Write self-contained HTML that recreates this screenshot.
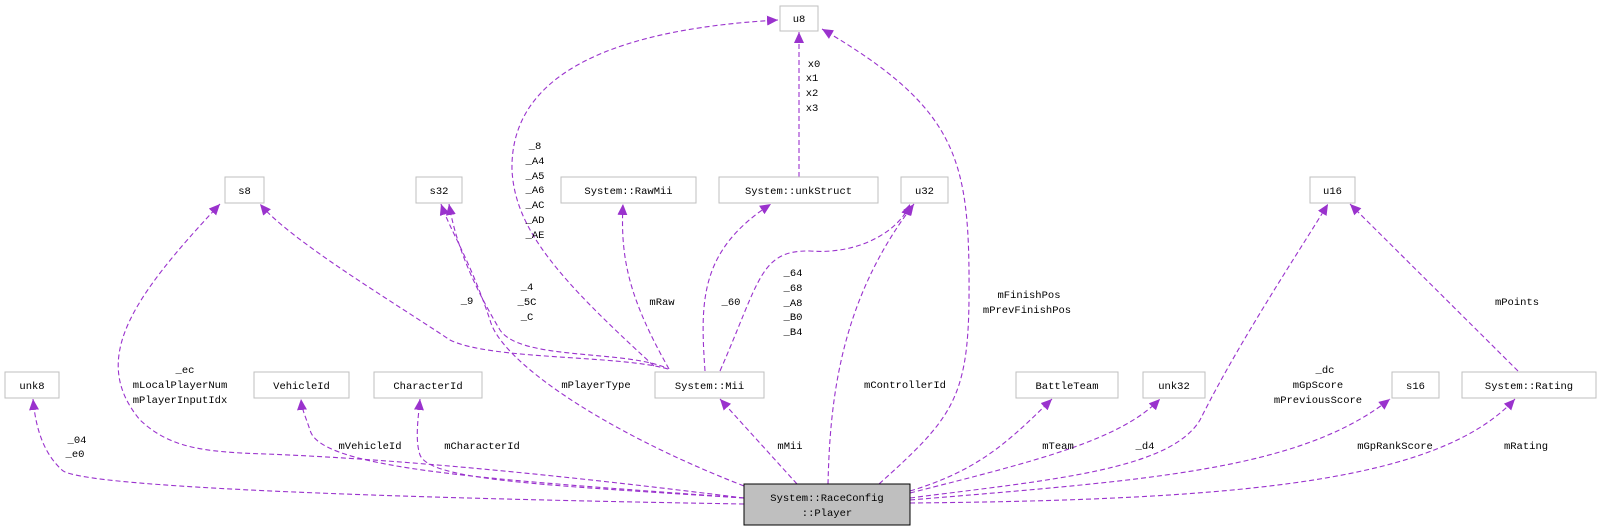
<!DOCTYPE html>
<html><head><meta charset="utf-8"><style>
html,body{margin:0;padding:0;background:#fff;width:1603px;height:531px;overflow:hidden}
svg text{font-family:"Liberation Mono",monospace;font-size:10.5px;fill:#000}
.n{fill:#fff;stroke:#bfbfbf;stroke-width:1}
.e{fill:none;stroke:#9a32cd;stroke-width:1.1;stroke-dasharray:5,3}
</style></head><body>
<svg width="1603" height="531" viewBox="0 0 1603 531" xmlns="http://www.w3.org/2000/svg">
<defs><marker id="a" markerWidth="12" markerHeight="10" refX="11" refY="5" orient="auto" markerUnits="userSpaceOnUse"><path d="M0,0 L11,5 L0,10 z" fill="#9a32cd"/></marker></defs>
<g class="e" marker-end="url(#a)">
<path d="M744,504 C500,500 80,490 62,470 C40,450 35,420 33,399"/>
<path d="M744,498 C600,480 420,460 266,454 C200,452 169,447 140,420 C90,360 130,300 220,204"/>
<path d="M668,369 C620,355 490,360 450,340 C390,300 290,240 260,204"/>
<path d="M664,367 C620,350 520,360 500,330 C470,280 455,240 449,204"/>
<path d="M744,486 C600,430 500,360 490,320 C470,260 450,230 441,204"/>
<path d="M654,366 C560,280 515,230 512,170 C510,80 600,30 778,20"/>
<path d="M799,177 L799,32"/>
<path d="M879,484 C950,420 968,400 969,300 C970,160 960,110 822,29"/>
<path d="M669,369 C630,300 620,260 623,204"/>
<path d="M705,371 C700,300 700,250 771,204"/>
<path d="M720,371 C760,280 760,250 810,251 C860,255 900,230 910,204"/>
<path d="M828,484 C830,400 840,300 914,204"/>
<path d="M797,484 L720,399"/>
<path d="M744,498 C500,480 320,470 310,430 C305,415 302,410 301,399"/>
<path d="M744,498 C540,485 430,480 420,455 C415,440 418,420 420,399"/>
<path d="M910,491 C980,470 1010,440 1052,399"/>
<path d="M910,493 C1040,460 1120,440 1160,399"/>
<path d="M910,498 C1050,480 1170,470 1200,420 C1240,340 1300,250 1328,204"/>
<path d="M1518,371 L1350,204"/>
<path d="M910,500 C1150,480 1300,470 1390,399"/>
<path d="M910,503 C1250,500 1440,480 1515,399"/>
</g>
<g>
<rect class="n" x="780" y="6" width="38" height="25"/><text x="799" y="22" text-anchor="middle">u8</text>
<rect class="n" x="225" y="177" width="39" height="26"/><text x="244.5" y="194" text-anchor="middle">s8</text>
<rect class="n" x="416" y="177" width="46" height="26"/><text x="439" y="194" text-anchor="middle">s32</text>
<rect class="n" x="561" y="177" width="135" height="26"/><text x="628.5" y="194" text-anchor="middle">System::RawMii</text>
<rect class="n" x="719" y="177" width="159" height="26"/><text x="798.5" y="194" text-anchor="middle">System::unkStruct</text>
<rect class="n" x="901" y="177" width="47" height="26"/><text x="924.5" y="194" text-anchor="middle">u32</text>
<rect class="n" x="1310" y="177" width="45" height="26"/><text x="1332.5" y="194" text-anchor="middle">u16</text>
<rect class="n" x="5" y="372" width="54" height="26"/><text x="32" y="389" text-anchor="middle">unk8</text>
<rect class="n" x="254" y="372" width="95" height="26"/><text x="301.5" y="389" text-anchor="middle">VehicleId</text>
<rect class="n" x="374" y="372" width="108" height="26"/><text x="428" y="389" text-anchor="middle">CharacterId</text>
<rect class="n" x="655" y="372" width="109" height="26"/><text x="709.5" y="389" text-anchor="middle">System::Mii</text>
<rect class="n" x="1016" y="372" width="102" height="26"/><text x="1067" y="389" text-anchor="middle">BattleTeam</text>
<rect class="n" x="1143" y="372" width="62" height="26"/><text x="1174" y="389" text-anchor="middle">unk32</text>
<rect class="n" x="1392" y="372" width="47" height="26"/><text x="1415.5" y="389" text-anchor="middle">s16</text>
<rect class="n" x="1462" y="372" width="134" height="26"/><text x="1529" y="389" text-anchor="middle">System::Rating</text>
<rect x="744" y="484" width="166" height="41" fill="#bfbfbf" stroke="#000" stroke-width="1"/>
<text x="827" y="501" text-anchor="middle">System::RaceConfig</text>
<text x="827" y="516" text-anchor="middle">::Player</text>
</g>
<g text-anchor="middle">
<text x="77" y="443">_04</text><text x="75" y="457">_e0</text>
<text x="185" y="373">_ec</text><text x="180" y="388">mLocalPlayerNum</text><text x="180" y="403">mPlayerInputIdx</text>
<text x="467" y="304">_9</text>
<text x="527" y="290">_4</text><text x="527" y="305">_5C</text><text x="527" y="320">_C</text>
<text x="596" y="388">mPlayerType</text>
<text x="535" y="149">_8</text><text x="535" y="164">_A4</text><text x="535" y="179">_A5</text><text x="535" y="193">_A6</text><text x="535" y="208">_AC</text><text x="535" y="223">_AD</text><text x="535" y="238">_AE</text>
<text x="814" y="67">x0</text><text x="812" y="81">x1</text><text x="812" y="96">x2</text><text x="812" y="111">x3</text>
<text x="1029" y="298">mFinishPos</text><text x="1027" y="313">mPrevFinishPos</text>
<text x="662" y="305">mRaw</text>
<text x="731" y="305">_60</text>
<text x="793" y="276">_64</text><text x="793" y="291">_68</text><text x="793" y="306">_A8</text><text x="793" y="320">_B0</text><text x="793" y="335">_B4</text>
<text x="905" y="388">mControllerId</text>
<text x="790" y="449">mMii</text>
<text x="370" y="449">mVehicleId</text>
<text x="482" y="449">mCharacterId</text>
<text x="1058" y="449">mTeam</text>
<text x="1145" y="449">_d4</text>
<text x="1325" y="373">_dc</text><text x="1318" y="388">mGpScore</text><text x="1318" y="403">mPreviousScore</text>
<text x="1517" y="305">mPoints</text>
<text x="1395" y="449">mGpRankScore</text>
<text x="1526" y="449">mRating</text>
</g>
</svg>
</body></html>
